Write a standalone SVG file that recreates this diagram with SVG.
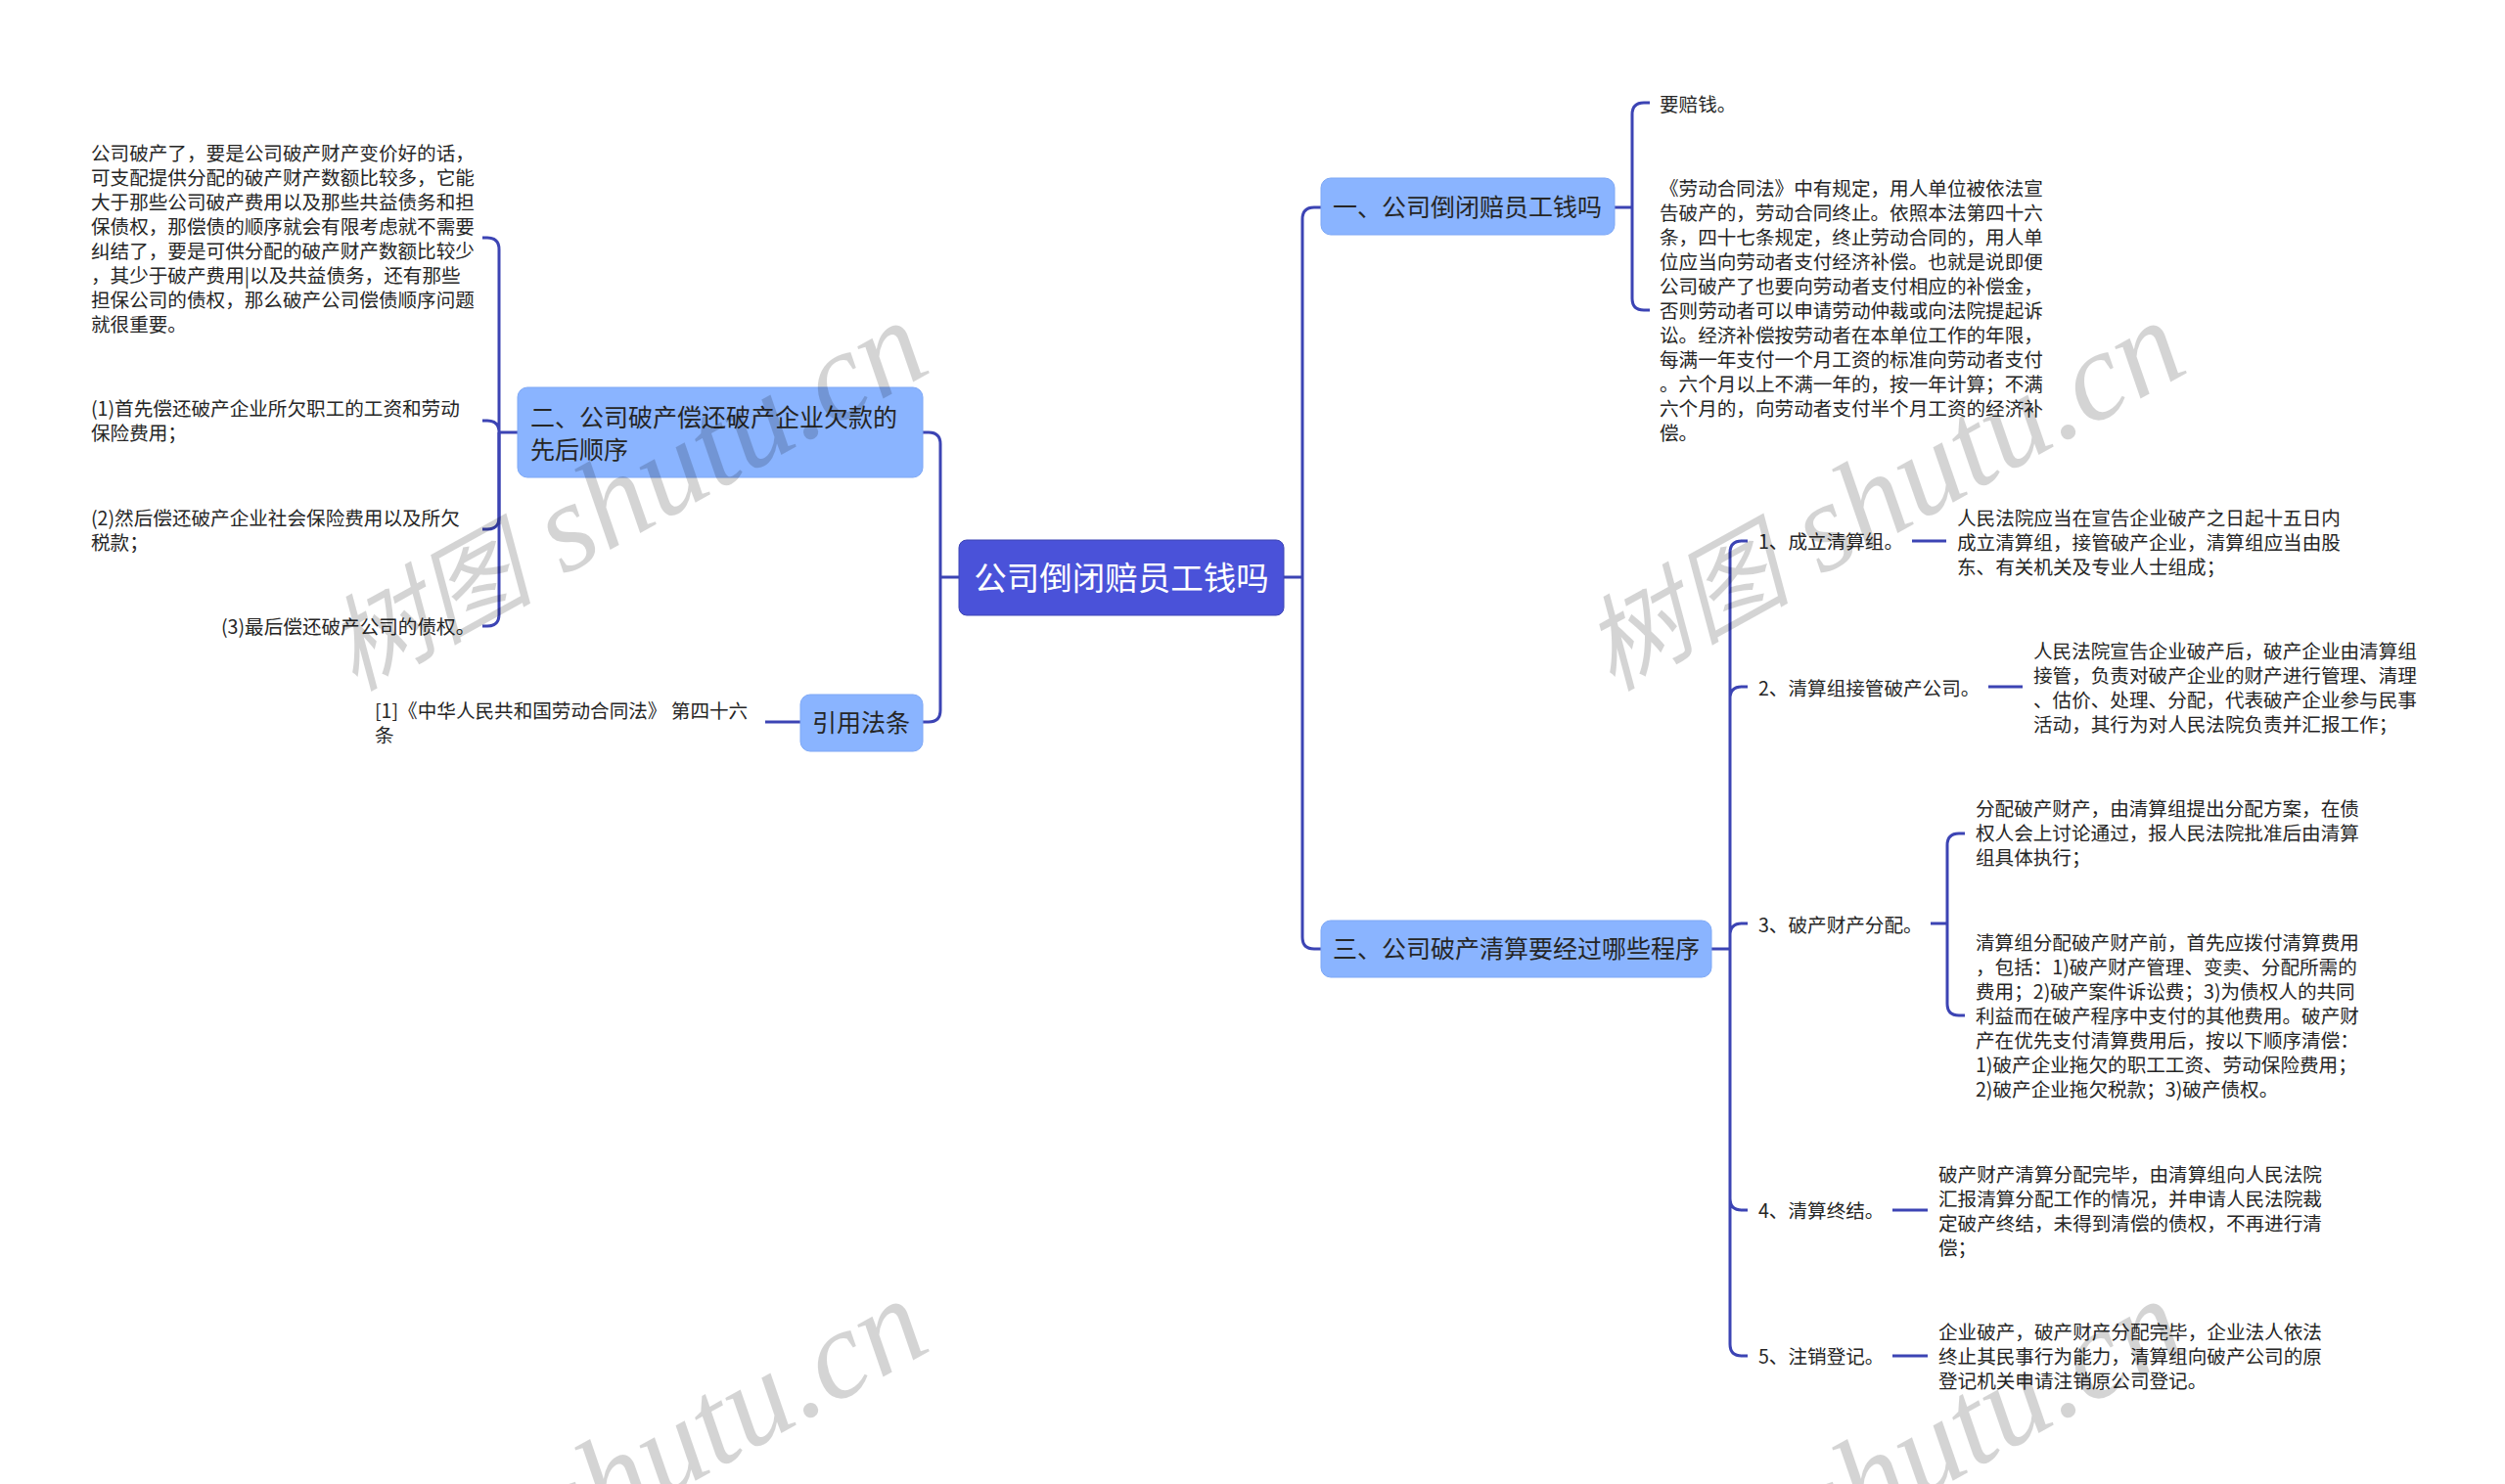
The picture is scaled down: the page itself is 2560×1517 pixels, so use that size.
<svg xmlns="http://www.w3.org/2000/svg" width="2560" height="1517" viewBox="0 0 2560 1517">
<style>
text{font-family:"Noto Sans CJK SC","Noto Sans",sans-serif;fill:#262626}
.t{font-size:19.6px}
.n{font-size:25px}
.r{font-size:33.5px;fill:#fff}
.c{fill:none;stroke:#3c44b4;stroke-width:3}
.b{fill:#8ab4ff;stroke:#7ea8f5;stroke-width:1}
.wm{font-family:"Liberation Serif","Noto Sans CJK SC",serif;font-style:italic;font-size:129px;fill:#000;fill-opacity:.17}
.wc{font-size:106px}
</style>
<rect width="2560" height="1517" fill="#fff"/>
<g id="connectors">
<path class="c" d="M980 590H961M943 442H949Q961 442 961 454V726Q961 738 949 738H943"/>
<path class="c" d="M529 442H510M493 243H498Q510 243 510 255V628Q510 640 498 640H493M493 430H498Q510 430 510 442"/>
<path class="c" d="M510 442V529Q510 541 498 541H493"/>
<path class="c" d="M818 738H782"/>
<path class="c" d="M1312 590H1331M1350 212H1343Q1331 212 1331 224V958Q1331 970 1343 970H1350"/>
<path class="c" d="M1650 212H1668M1686 105H1680Q1668 105 1668 117V305Q1668 317 1680 317H1686"/>
<path class="c" d="M1749 970H1768M1786 553H1780Q1768 553 1768 565V1374Q1768 1386 1780 1386H1786M1786 702H1780Q1768 702 1768 714M1786 944H1780Q1768 944 1768 956M1786 1237H1780Q1768 1237 1768 1225"/>
<path class="c" d="M1954 553H1989M2032 702H2067M1934 1237H1970M1934 1386H1970"/>
<path class="c" d="M1973 944H1990M2008 852H2002Q1990 852 1990 864V1026Q1990 1038 2002 1038H2008"/>
</g>
<g id="root"><rect x="980" y="552" width="332" height="77" rx="8" fill="#4a52d9" stroke="#3c44b4"/><text class="r" x="1146" y="603" text-anchor="middle">公司倒闭赔员工钱吗</text></g>
<g id="n1"><rect class="b" x="1350" y="182" width="300" height="58" rx="10"/><text class="n" x="1362" y="221">一、公司倒闭赔员工钱吗</text></g>
<g id="n2"><rect class="b" x="529" y="396" width="414" height="92" rx="10"/><text class="n" x="542" y="436">二、公司破产偿还破产企业欠款的</text><text class="n" x="542" y="469">先后顺序</text></g>
<g id="n3"><rect class="b" x="1350" y="941" width="399" height="58" rx="10"/><text class="n" x="1362" y="979">三、公司破产清算要经过哪些程序</text></g>
<g id="n4"><rect class="b" x="818" y="710" width="125" height="58" rx="10"/><text class="n" x="830" y="748">引用法条</text></g>
<g id="l1">
<text class="t" x="93" y="164">公司破产了，要是公司破产财产变价好的话，</text>
<text class="t" x="93" y="189">可支配提供分配的破产财产数额比较多，它能</text>
<text class="t" x="93" y="214">大于那些公司破产费用以及那些共益债务和担</text>
<text class="t" x="93" y="239">保债权，那偿债的顺序就会有限考虑就不需要</text>
<text class="t" x="93" y="264">纠结了，要是可供分配的破产财产数额比较少</text>
<text class="t" x="93" y="289">，其少于破产费用|以及共益债务，还有那些</text>
<text class="t" x="93" y="314">担保公司的债权，那么破产公司偿债顺序问题</text>
<text class="t" x="93" y="339">就很重要。</text>
</g>
<g id="l2"><text class="t" x="93" y="425">(1)首先偿还破产企业所欠职工的工资和劳动</text><text class="t" x="93" y="450">保险费用；</text></g>
<g id="l3"><text class="t" x="93" y="537">(2)然后偿还破产企业社会保险费用以及所欠</text><text class="t" x="93" y="562">税款；</text></g>
<g id="l4"><text class="t" x="226" y="648">(3)最后偿还破产公司的债权。</text></g>
<g id="l5"><text class="t" x="383" y="734">[1]《中华人民共和国劳动合同法》 第四十六</text><text class="t" x="383" y="759">条</text></g>
<g id="r1"><text class="t" x="1696" y="114">要赔钱。</text></g>
<g id="r2">
<text class="t" x="1696" y="200">《劳动合同法》中有规定，用人单位被依法宣</text>
<text class="t" x="1696" y="225">告破产的，劳动合同终止。依照本法第四十六</text>
<text class="t" x="1696" y="250">条，四十七条规定，终止劳动合同的，用人单</text>
<text class="t" x="1696" y="275">位应当向劳动者支付经济补偿。也就是说即便</text>
<text class="t" x="1696" y="300">公司破产了也要向劳动者支付相应的补偿金，</text>
<text class="t" x="1696" y="325">否则劳动者可以申请劳动仲裁或向法院提起诉</text>
<text class="t" x="1696" y="350">讼。经济补偿按劳动者在本单位工作的年限，</text>
<text class="t" x="1696" y="375">每满一年支付一个月工资的标准向劳动者支付</text>
<text class="t" x="1696" y="400">。六个月以上不满一年的，按一年计算；不满</text>
<text class="t" x="1696" y="425">六个月的，向劳动者支付半个月工资的经济补</text>
<text class="t" x="1696" y="450">偿。</text>
</g>
<g id="s1"><text class="t" x="1797" y="561">1、成立清算组。</text></g>
<g id="s1d"><text class="t" x="2000" y="537">人民法院应当在宣告企业破产之日起十五日内</text><text class="t" x="2000" y="562">成立清算组，接管破产企业，清算组应当由股</text><text class="t" x="2000" y="587">东、有关机关及专业人士组成；</text></g>
<g id="s2"><text class="t" x="1797" y="711">2、清算组接管破产公司。</text></g>
<g id="s2d"><text class="t" x="2078" y="673">人民法院宣告企业破产后，破产企业由清算组</text><text class="t" x="2078" y="698">接管，负责对破产企业的财产进行管理、清理</text><text class="t" x="2078" y="723">、估价、处理、分配，代表破产企业参与民事</text><text class="t" x="2078" y="748">活动，其行为对人民法院负责并汇报工作；</text></g>
<g id="s3"><text class="t" x="1797" y="953">3、破产财产分配。</text></g>
<g id="s3a"><text class="t" x="2019" y="834">分配破产财产，由清算组提出分配方案，在债</text><text class="t" x="2019" y="859">权人会上讨论通过，报人民法院批准后由清算</text><text class="t" x="2019" y="884">组具体执行；</text></g>
<g id="s3b">
<text class="t" x="2019" y="971">清算组分配破产财产前，首先应拨付清算费用</text>
<text class="t" x="2019" y="996">，包括：1)破产财产管理、变卖、分配所需的</text>
<text class="t" x="2019" y="1021">费用；2)破产案件诉讼费；3)为债权人的共同</text>
<text class="t" x="2019" y="1046">利益而在破产程序中支付的其他费用。破产财</text>
<text class="t" x="2019" y="1071">产在优先支付清算费用后，按以下顺序清偿：</text>
<text class="t" x="2019" y="1096">1)破产企业拖欠的职工工资、劳动保险费用；</text>
<text class="t" x="2019" y="1121">2)破产企业拖欠税款；3)破产债权。</text>
</g>
<g id="s4"><text class="t" x="1797" y="1245">4、清算终结。</text></g>
<g id="s4d"><text class="t" x="1981" y="1208">破产财产清算分配完毕，由清算组向人民法院</text><text class="t" x="1981" y="1233">汇报清算分配工作的情况，并申请人民法院裁</text><text class="t" x="1981" y="1258">定破产终结，未得到清偿的债权，不再进行清</text><text class="t" x="1981" y="1283">偿；</text></g>
<g id="s5"><text class="t" x="1797" y="1394">5、注销登记。</text></g>
<g id="s5d"><text class="t" x="1981" y="1369">企业破产，破产财产分配完毕，企业法人依法</text><text class="t" x="1981" y="1394">终止其民事行为能力，清算组向破产公司的原</text><text class="t" x="1981" y="1419">登记机关申请注销原公司登记。</text></g>
<g id="watermarks">
<text class="wm" transform="translate(362 707) rotate(-29)"><tspan class="wc">树图</tspan> shutu.cn</text>
<text class="wm" transform="translate(1647 707) rotate(-29)"><tspan class="wc">树图</tspan> shutu.cn</text>
<text class="wm" transform="translate(362 1707) rotate(-29)"><tspan class="wc">树图</tspan> shutu.cn</text>
<text class="wm" transform="translate(1647 1707) rotate(-29)"><tspan class="wc">树图</tspan> shutu.cn</text>
</g>
</svg>
